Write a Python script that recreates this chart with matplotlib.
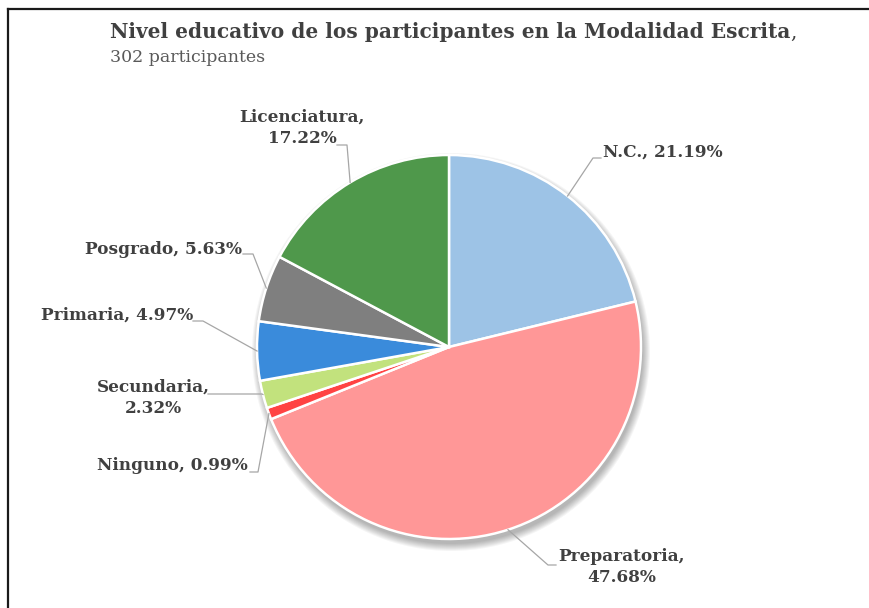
import numpy as np
import matplotlib.pyplot as plt
from matplotlib.patches import Circle
from matplotlib.lines import Line2D

# data
categorias = ['N.C.', 'Preparatoria', 'Ninguno', 'Secundaria', 'Primaria', 'Posgrado', 'Licenciatura']
porcentajes = [21.19, 47.68, 0.99, 2.32, 4.97, 5.63, 17.22]
colores = ['#9DC3E6', '#FF9797', '#FF4343', '#C2E27D', '#3A8BDB', '#7F7F7F', '#4F984B']
etiquetas = ['N.C., 21.19%', 'Preparatoria,\n47.68%', 'Ninguno, 0.99%', 'Secundaria,\n2.32%',
             'Primaria, 4.97%', 'Posgrado, 5.63%', 'Licenciatura,\n17.22%']

W, H = 870, 608
cx, cy, R = 449, H - 347, 192

plt.rcParams['font.family'] = ['DejaVu Serif']
fig = plt.figure(figsize=(W / 100, H / 100), dpi=100)
ax = fig.add_axes([0, 0, 1, 1])

# soft shadow
for k in range(8):
    ax.add_patch(Circle((cx + 2, cy - 5), R + 7 - k, color='black', alpha=0.04, lw=0, zorder=0))

wedges, _ = ax.pie(porcentajes, colors=colores, startangle=90, counterclock=False,
                   center=(cx, cy), radius=R,
                   wedgeprops=dict(edgecolor='white', linewidth=1.8))
for w in wedges:
    w.set_zorder(2)

# label layout: (elbow x, elbow y, end x, text x, text y, ha) in pixels from top-left
layout = [
    (593, 158, 601, 603, 152, 'left'),
    (548, 565, 556, 622, 567, 'center'),
    (258, 472, 250, 248, 466, 'right'),
    (262, 394, 208, 153, 398, 'center'),
    (203, 321, 193, 193, 315, 'right'),
    (253, 254, 243, 242, 250, 'right'),
    (347, 145, 337, 302, 128, 'center'),
]

cum = np.cumsum([0] + porcentajes[:-1])
for i, p in enumerate(porcentajes):
    ang = np.radians(90 - (cum[i] + p / 2) * 3.6)
    ex, ey = cx + R * np.cos(ang), cy + R * np.sin(ang)
    bx, by, tx, lx, ly, ha = layout[i]
    ax.plot([ex, bx, tx], [ey, H - by, H - by], color='#A6A6A6', lw=0.9, zorder=3)
    ax.text(lx, H - ly, etiquetas[i], ha=ha, va='center', fontsize=12.2, fontweight='bold',
            color='#404040', linespacing=1.3, multialignment='center')

ax.set_xlim(0, W)
ax.set_ylim(0, H)
ax.set_aspect('equal')
ax.axis('off')

# title
t = ax.text(110, H - 32, 'Nivel educativo de los participantes en la Modalidad Escrita',
            fontsize=14.5, fontweight='bold', color='#404040', va='center', ha='left')
ax.annotate(',', xycoords=t, xy=(1, 0.5), va='center', ha='left', fontsize=14.5, color='#404040')
ax.text(110, H - 57, '302 participantes', fontsize=12.5, color='#595959', va='center', ha='left')

# frame border
fig.add_artist(Line2D([8 / W, 1], [1 - 9 / H, 1 - 9 / H], color='#1a1a1a', lw=1.6))
fig.add_artist(Line2D([8 / W, 8 / W], [0, 1 - 9 / H], color='#1a1a1a', lw=1.6))

fig.savefig('out.png', dpi=100)
